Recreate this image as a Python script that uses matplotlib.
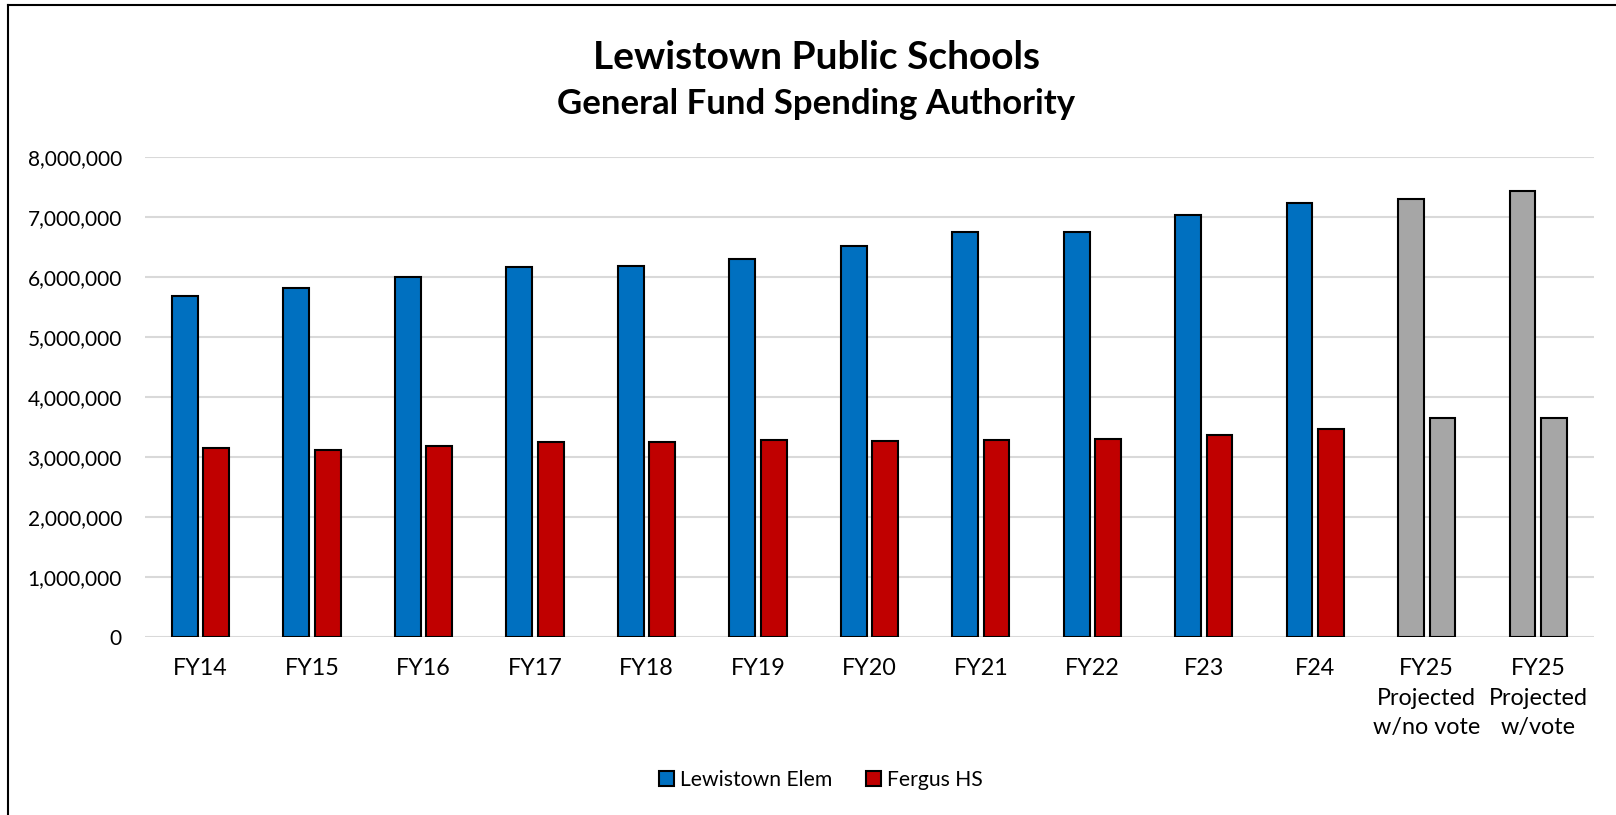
import matplotlib
matplotlib.use("Agg")
import matplotlib.pyplot as plt
from matplotlib.patches import Patch
from matplotlib.lines import Line2D
import numpy as np

plt.rcParams['font.family'] = ['Lato', 'DejaVu Sans']

categories = ["FY14", "FY15", "FY16", "FY17", "FY18", "FY19", "FY20", "FY21",
              "FY22", "F23", "F24", "FY25\nProjected\nw/no vote", "FY25\nProjected\nw/vote"]
elem_values = [5680000, 5820000, 6000000, 6165000, 6178000, 6290000, 6512000,
               6745000, 6750000, 7023000, 7223000, 7290000, 7428000]
hs_values = [3140000, 3117000, 3178000, 3245000, 3250000, 3273000, 3267000,
             3272000, 3295000, 3357000, 3467000, 3650000, 3650000]
projected = [False] * 11 + [True, True]
series_names = ["Lewistown Elem", "Fergus HS"]
title = "Lewistown Public Schools"
subtitle = "General Fund Spending Authority"

BLUE = "#0070C0"
RED = "#C00000"
GRAY = "#A6A6A6"

W, H = 1616, 815
fig = plt.figure(figsize=(W / 100, H / 100), dpi=100)
ax_l, ax_r, ax_t, ax_b = 144.8, 1594, 156.7, 636.7
ax = fig.add_axes([ax_l / W, 1 - ax_b / H, (ax_r - ax_l) / W, (ax_b - ax_t) / H])

x = np.arange(len(categories))
w = 0.231
off = 0.141
elem_colors = [GRAY if p else BLUE for p in projected]
hs_colors = [GRAY if p else RED for p in projected]
ax.bar(x - off, elem_values, width=w, color=elem_colors, edgecolor="black", linewidth=1.5, zorder=3)
ax.bar(x + off, hs_values, width=w, color=hs_colors, edgecolor="black", linewidth=1.5, zorder=3)

ax.set_xlim(-0.5, len(categories) - 0.5)
ax.set_ylim(0, 8000000)
ax.set_yticks(np.arange(0, 8000001, 1000000))
ax.yaxis.set_major_formatter(matplotlib.ticker.FuncFormatter(lambda v, p: f"{int(v):,}"))
ax.set_xticks(x)
ax.set_xticklabels(categories, linespacing=1.5)
ax.tick_params(axis='both', length=0, colors="black")
ax.tick_params(axis='y', pad=16.5, labelsize=15)
ax.tick_params(axis='x', pad=15.5, labelsize=16.8)
ax.grid(axis='y', color="#D9D9D9", linewidth=1.5, zorder=0)
for s in ax.spines.values():
    s.set_visible(False)

fig.text(0.505, 1 - 57.5 / H, title, ha='center', va='center', fontsize=28, fontweight='bold')
fig.text(0.505, 1 - 104.5 / H, subtitle, ha='center', va='center', fontsize=25, fontweight='bold')

handles = [Patch(facecolor=BLUE, edgecolor="black", linewidth=1.5),
           Patch(facecolor=RED, edgecolor="black", linewidth=1.5)]
fig.legend(handles, series_names, loc='center', bbox_to_anchor=(821 / W, 1 - 780 / H),
           ncol=2, frameon=False, fontsize=15.2, handlelength=0.7, handleheight=0.7,
           handletextpad=0.3, columnspacing=1.6)

fig.add_artist(Line2D([8 / W, 8 / W], [0, 1 - 5 / H], color="black", linewidth=1.5,
                      transform=fig.transFigure))
fig.add_artist(Line2D([8 / W, 1], [1 - 5 / H, 1 - 5 / H], color="black", linewidth=1.5,
                      transform=fig.transFigure))

fig.savefig("out.png", dpi=100, facecolor="white")
